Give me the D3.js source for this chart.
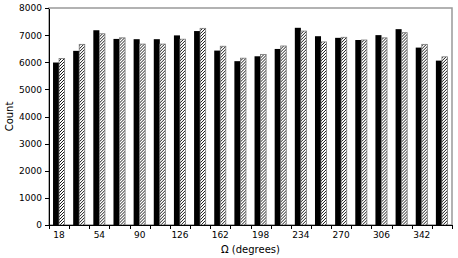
<!DOCTYPE html>
<html lang="en">
<head>
<meta charset="UTF-8">
<title>Omega histogram</title>
<script src="https://d3js.org/d3.v7.min.js"></script>
<style>
  body { margin: 0; background: #fff; }
  text { font-family: "DejaVu Sans", sans-serif; }
  .axis path, .axis line { stroke: #000; shape-rendering: crispEdges; }
  .axis text { font-size: 9px; fill: #000; }
</style>
</head>
<body>
<script>

// bin index 0..19 (18 degree bins)
var bins = d3.range(20);
var solidCounts = [5990, 6420, 7180, 6860, 6850, 6850, 6990, 7150, 6430, 6040,
                   6220, 6490, 7270, 6960, 6900, 6820, 7000, 7220, 6540, 6060];
var hatchCounts = [6140, 6660, 7050, 6900, 6670, 6670, 6850, 7250, 6590, 6150,
                   6290, 6600, 7150, 6750, 6920, 6820, 6900, 7090, 6660, 6200];
var xTickLabels = [18, 54, 90, 126, 162, 198, 234, 270, 306, 342];
var yTicks = [0, 1000, 2000, 3000, 4000, 5000, 6000, 7000, 8000];

var margin = {top: 8, right: 6, bottom: 33, left: 49},
    width = 458 - margin.left - margin.right,
    height = 258 - margin.top - margin.bottom;

var svg = d3.select("body").append("svg")
    .attr("width", 458)
    .attr("height", 258);

var defs = svg.append("defs");
var pat = defs.append("pattern")
    .attr("id", "hatch")
    .attr("patternUnits", "userSpaceOnUse")
    .attr("width", 3)
    .attr("height", 3);
pat.append("rect").attr("width", 3).attr("height", 3).attr("fill", "#fff");
pat.append("path")
    .attr("d", "M0,3 L3,0 M-0.75,0.75 L0.75,-0.75 M2.25,3.75 L3.75,2.25")
    .attr("stroke", "#000")
    .attr("stroke-width", 0.9);

var g = svg.append("g")
    .attr("transform", "translate(" + margin.left + "," + margin.top + ")");

var x0 = d3.scaleBand().domain(bins).range([0, width]).padding(0);
var x1 = d3.scaleBand().domain(["solid", "hatch"])
    .range([x0.bandwidth() * 0.2, x0.bandwidth() * 0.8]);
var xDeg = d3.scaleLinear().domain([0, 360]).range([0, width]);
var y = d3.scaleLinear().domain([0, 8000]).range([height, 0]);

// frame (top/right in grey)
g.append("rect")
    .attr("width", width)
    .attr("height", height)
    .attr("fill", "none")
    .attr("stroke", "#999")
    .attr("stroke-width", 1.5);

var groups = g.selectAll(".grp")
    .data(bins)
    .enter().append("g")
    .attr("class", "grp")
    .attr("transform", function(d) { return "translate(" + x0(d) + ",0)"; });

groups.append("rect")
    .attr("x", x1("solid"))
    .attr("width", x1.bandwidth())
    .attr("y", function(d) { return y(solidCounts[d]); })
    .attr("height", function(d) { return height - y(solidCounts[d]); })
    .attr("fill", "#000");

groups.append("rect")
    .attr("x", x1("hatch"))
    .attr("width", x1.bandwidth() - 0.5)
    .attr("y", function(d) { return y(hatchCounts[d]); })
    .attr("height", function(d) { return height - y(hatchCounts[d]); })
    .attr("fill", "url(#hatch)")
    .attr("stroke", "#777")
    .attr("stroke-width", 0.8);

// x axis: ticks at bin edges, labels under every other bin
g.append("g")
    .attr("class", "axis")
    .attr("transform", "translate(0," + height + ")")
    .call(d3.axisBottom(xDeg).tickValues(d3.range(0, 361, 18)).tickFormat("").tickSize(4).tickSizeOuter(0));

g.append("g")
    .attr("class", "axis")
    .selectAll("text")
    .data(xTickLabels)
    .enter().append("text")
    .attr("x", function(d) { return xDeg(d - 9); })
    .attr("y", height + 13)
    .attr("text-anchor", "middle")
    .text(function(d) { return d; });

g.append("g")
    .attr("class", "axis")
    .call(d3.axisLeft(y).tickValues(yTicks).tickSize(4).tickSizeOuter(0).tickFormat(d3.format("d")));

g.append("text")
    .attr("x", width / 2)
    .attr("y", height + 28)
    .attr("text-anchor", "middle")
    .style("font-size", "10px")
    .text("Ω (degrees)");

g.append("text")
    .attr("transform", "rotate(-90)")
    .attr("x", -height / 2)
    .attr("y", -36)
    .attr("text-anchor", "middle")
    .style("font-size", "10px")
    .text("Count");

</script>
</body>
</html>
